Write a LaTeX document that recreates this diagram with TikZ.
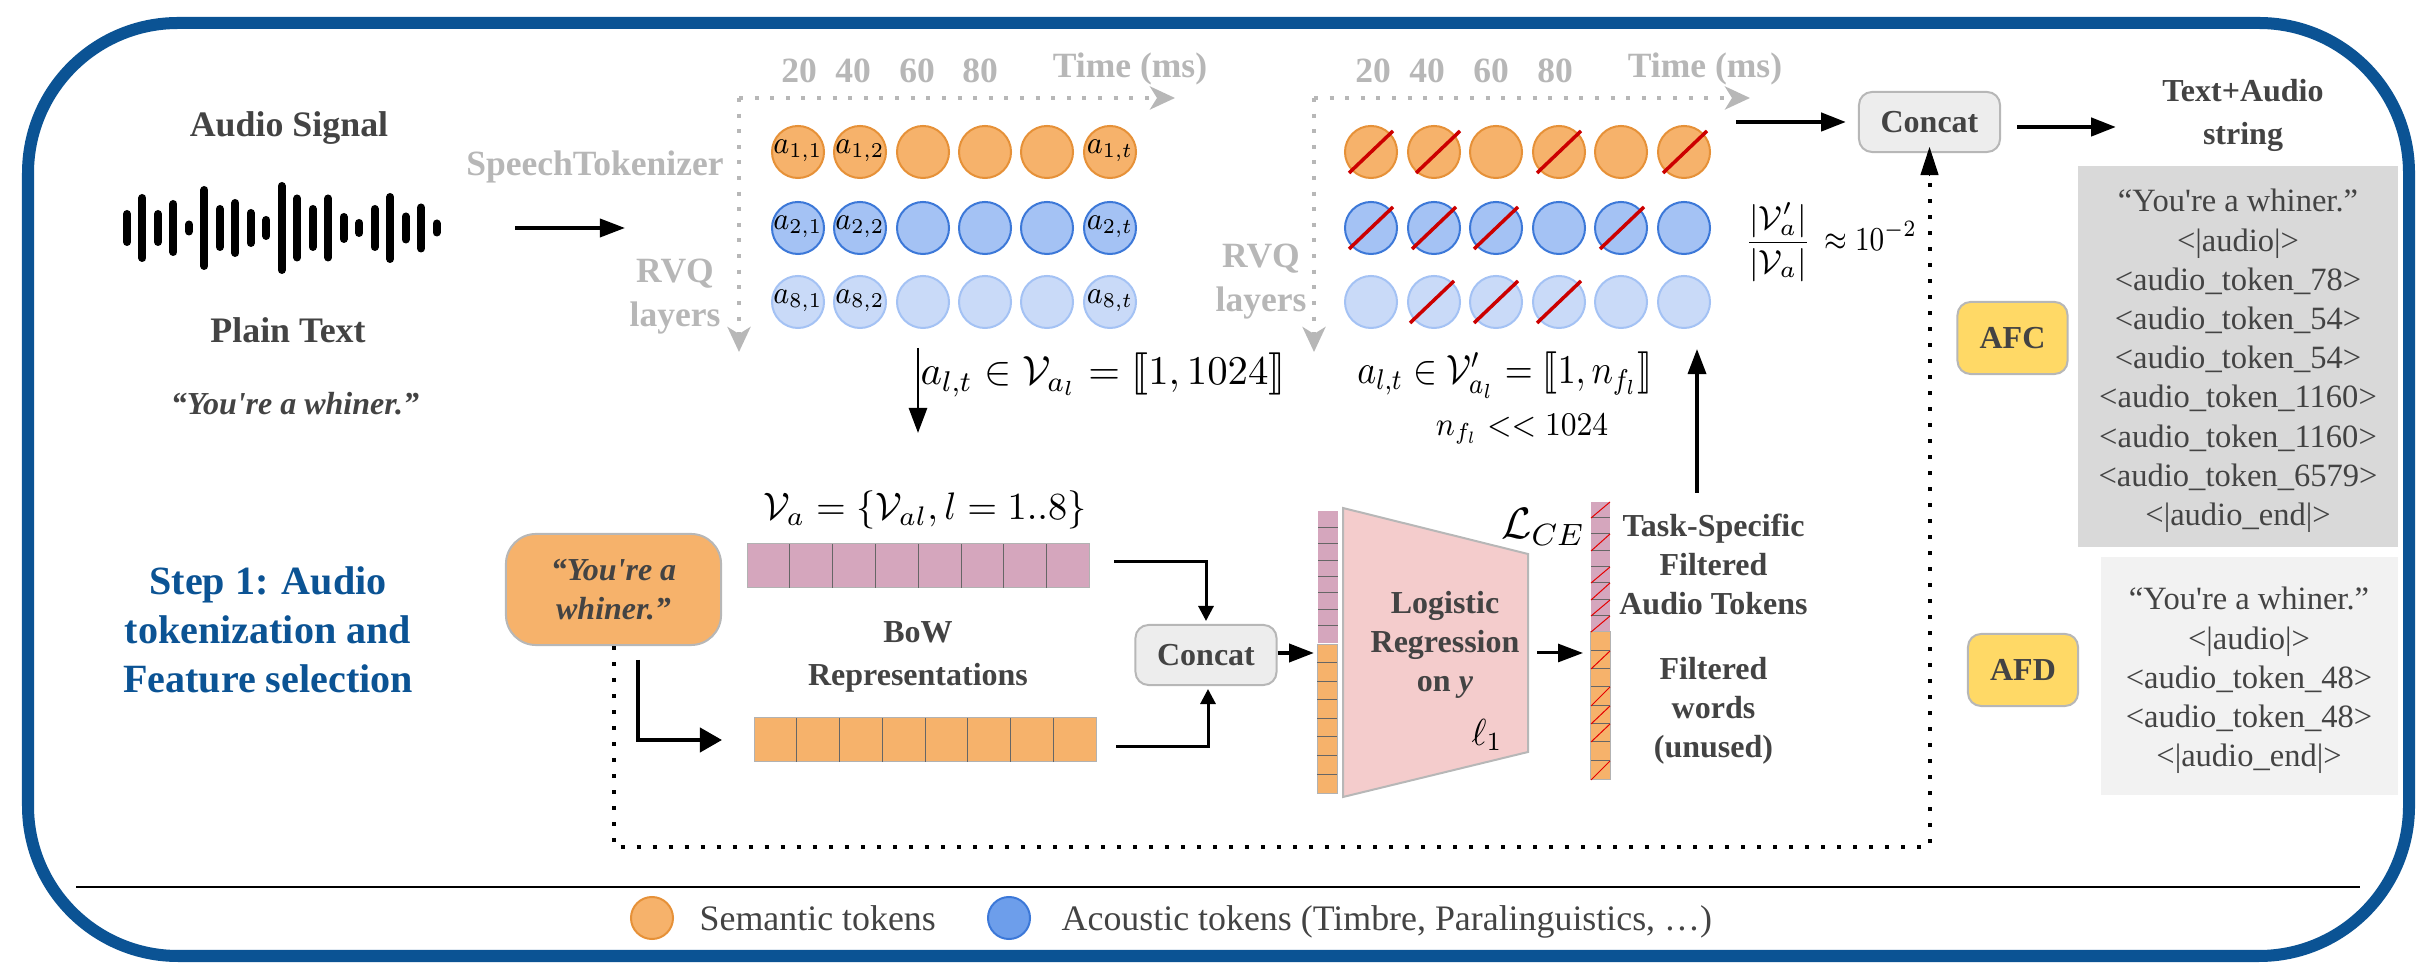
\documentclass[tikz,border=0pt]{standalone}
\usepackage{fix-cm}
\usepackage{amsmath}
\usepackage{stmaryrd}
\usepackage[no-math]{fontspec}
\setmainfont{Liberation Serif}
\newfontfamily\plainquote{Liberation Serif}
\newcommand{\apos}{{\plainquote'}}
\newcommand{\squeeze}[2]{\scalebox{#1}[1]{#2}}
\usetikzlibrary{arrows.meta}

\definecolor{framecol}{HTML}{0B5394}
\definecolor{txtcol}{HTML}{434343}
\definecolor{axiscol}{HTML}{B7B7B7}
\definecolor{semcol}{HTML}{F6B26B}
\definecolor{semline}{HTML}{E69138}
\definecolor{acocol}{HTML}{A4C2F4}
\definecolor{acoline}{HTML}{3C78D8}
\definecolor{acolight}{HTML}{C9DAF8}
\definecolor{acolegend}{HTML}{6D9EEB}
\definecolor{bowcol}{HTML}{D5A6BD}
\definecolor{lrcol}{HTML}{F4CCCC}
\definecolor{tagcol}{HTML}{FFD966}
\definecolor{slashcol}{HTML}{CC0000}

\tikzset{
  toka/.style={circle,inner sep=0,minimum size=0.52cm,line width=0.02cm,fill=semcol,draw=semline},
  tokb/.style={circle,inner sep=0,minimum size=0.52cm,line width=0.02cm,fill=acocol,draw=acoline},
  tokc/.style={circle,inner sep=0,minimum size=0.52cm,line width=0.02cm,fill=acolight,draw=acocol},
  toklabel/.style={inner sep=0,font=\fontsize{9}{10}\selectfont},
  slash/.style={draw=slashcol,line width=0.035cm},
  lab/.style={inner sep=0,text=txtcol,align=center,font=\fontsize{9.1}{11.1}\selectfont\bfseries},
  biglab/.style={lab,font=\fontsize{10.2}{11.1}\selectfont\bfseries},
  axislab/.style={inner sep=0,anchor=base,text=axiscol,align=center,font=\fontsize{10.1}{12.5}\selectfont\bfseries},
  mathlab/.style={inner sep=0,font=\fontsize{11.6}{14}\selectfont},
  axisline/.style={draw=axiscol,line width=0.04cm,dash pattern=on 0.04cm off 0.116cm,
    -{Stealth[length=0.25cm,width=0.23cm,inset=0.07cm,fill=axiscol]}},
  arr/.style={-{Stealth[length=0.25cm,width=0.18cm,inset=0pt]},line width=0.035cm},
  greybox/.style={rectangle,rounded corners=0.13cm,inner sep=0,line width=0.02cm,fill=black!7,draw=axiscol,
    minimum width=1.41cm,minimum height=0.6cm,lab},
  tagbox/.style={rectangle,rounded corners=0.13cm,inner sep=0,line width=0.02cm,fill=tagcol,draw=axiscol,
    minimum width=1.1cm,minimum height=0.72cm,lab},
  paneltext/.style={inner sep=0,anchor=base,text=txtcol,font=\fontsize{9.25}{11}\selectfont},
  cell/.style={draw=black!60,line width=0.01cm},
  celldiag/.style={draw=red!90!black,line width=0.01cm},
}

\begin{document}
\begin{tikzpicture}[x=0.01cm,y=-0.01cm]
  \useasboundingbox (0,0) rectangle (2433,980);
  \draw[framecol,line width=0.12cm,rounded corners=1.5cm] (28,23) rectangle (2409,956);

  % audio signal
  \node[biglab] (audio) at (289,128) {Audio Signal};
  \foreach[count=\i] \h in {18,34,18,28,7.5,42,23,29,19,12,46,33.5,23,33.5,15,9,23,35,15.5,24.5,8.5}
    \draw[line width=0.08cm,line cap=round] ({127+15.48*(\i-1)},{228-\h+4}) -- ({127+15.48*(\i-1)},{228+\h-4});
  \node[biglab] (plain) at (288,330) {Plain Text};
  \node[lab,font=\fontsize{9.1}{11.1}\selectfont\bfseries\itshape] (quote) at (295,404) {“You\apos re a whiner.”};
  \coordinate (wave-out) at (515,228);
  \coordinate (grid-in) at (625,228);
  \draw[arr] (wave-out) -- (grid-in);
  \node[axislab] (tokenizer) at (595,176) {SpeechTokenizer};
  \node[axislab] (rvqa) at (675,283) {RVQ};
  \node[axislab] (laya) at (675,327) {layers};
  \node[axislab] (rvqb) at (1261,268) {RVQ};
  \node[axislab] (layb) at (1261,312) {layers};

  % time axes
  \foreach \n/\x in {a/739,b/1314}{
    \coordinate (o\n) at (\x,98);
    \coordinate (t\n) at (\x+436,98);
    \coordinate (l\n) at (\x,352);
    \draw[axisline] (o\n) -- (t\n);
    \draw[axisline] (o\n) -- (l\n);
  }
  \node[axislab] (timea) at (1130,78) {Time (ms)};
  \node[axislab] (timeb) at (1705,78) {Time (ms)};
  \foreach \x/\t in {799/20,853/40,917/60,980/80,1373/20,1427/40,1491/60,1555/80}
    \node[axislab] (n\x) at (\x,83) {\t};

  % token grids
  \foreach \r/\y/\s in {1/152/toka,2/228/tokb,8/302/tokc}{
    \foreach[count=\c] \x in {798,860,923,985,1047,1110}
      \node[\s] (a\r\c) at (\x,\y) {};
    \foreach[count=\c] \x in {1371,1434,1496,1559,1621,1684}
      \node[\s] (f\r\c) at (\x,\y) {};
    \foreach \x/\i in {798/1,860/2,1110/t}
      \node[toklabel] (lab\r\i) at (\x,\y-1) {\squeeze{0.93}{$a_{\r,\i}$}};
  }
  \foreach \r/\c/\d in {1/1/0,1/2/4,1/4/0,1/6/1,2/1/0,2/2/0,2/3/0,2/5/1,8/2/-2,8/3/0,8/4/0}
    \draw[slash] ([shift={(-22+\d,21)}]f\r\c.center) -- ([shift={(22+\d,-21)}]f\r\c.center);

  \node[mathlab] (eqa) at (1103,375) {$a_{l,t} \in \mathcal{V}_{a_l} = \llbracket 1,1024 \rrbracket$};
  \node[mathlab] (eqb) at (1505,375) {\squeeze{0.88}{$a_{l,t} \in \mathcal{V}'_{a_l} = \llbracket 1,n_{f_l} \rrbracket$}};
  \node[mathlab,font=\fontsize{9.4}{12}\selectfont] (eqc) at (1522,429) {\squeeze{0.93}{$n_{f_l} << 1024$}};
  \node[mathlab,font=\fontsize{9.5}{12}\selectfont] (ratio) at (1831,242) {$\dfrac{|\mathcal{V}'_a|}{|\mathcal{V}_a|}$\hspace{0.13cm}\squeeze{0.85}{$\approx 10^{-2}$}};

  \coordinate (down-a) at (918,348);
  \coordinate (down-b) at (918,433);
  \draw[arr,line width=0.028cm] (down-a) -- (down-b);

  % top concat
  \node[greybox] (concat) at (1929.5,122) {Concat};
  \coordinate (row-out) at (1736,122);
  \coordinate (row-in) at (1846,122);
  \draw[arr,line width=0.045cm] (row-out) -- (row-in);
  \node[lab] (string) at (2243,115) {Text+Audio\\[0.04cm]string};
  \coordinate (str-a) at (2017,127);
  \coordinate (str-b) at (2116,127);
  \draw[arr,line width=0.045cm] (str-a) -- (str-b);

  % output panels
  \fill[black!15] (2078,166) rectangle (2398,547);
  \fill[black!5] (2101,557) rectangle (2398,795);
  \foreach[count=\i] \t in {“You\apos re a whiner.”,<|audio|>,<audio\_token\_78>,<audio\_token\_54>,<audio\_token\_54>,<audio\_token\_1160>,<audio\_token\_1160>,<audio\_token\_6579>,<|audio\_end|>}
    \node[paneltext] (afc\i) at (2238,{212+39.2*(\i-1)}) {\t};
  \foreach[count=\i] \t in {“You\apos re a whiner.”,<|audio|>,<audio\_token\_48>,<audio\_token\_48>,<|audio\_end|>}
    \node[paneltext] (afd\i) at (2249,{610+39.2*(\i-1)}) {\t};
  \node[tagbox] (afc) at (2012.5,338) {AFC};
  \node[tagbox] (afd) at (2023,670) {AFD};

  % step title
  \node[lab,text=framecol,font=\fontsize{11.4}{13.9}\selectfont\bfseries] (stepa) at (268,630) {Step 1: Audio\\tokenization and\\Feature selection};

  % bow part
  \node[rectangle,rounded corners=0.3cm,inner sep=0,line width=0.02cm,fill=semcol,draw=axiscol,minimum width=2.15cm,minimum height=1.11cm,
    lab,font=\fontsize{9.1}{11.1}\selectfont\bfseries\itshape] (text) at (613.5,589.5) {“You\apos re a\\whiner.”};
  \node[mathlab,font=\fontsize{10.9}{13}\selectfont] (eqv) at (925,510) {$\mathcal{V}_a = \{\mathcal{V}_{al}, l = 1..8\}$};
  \node[lab] (bow) at (918,657) {BoW\\[0.04cm]Representations};
  \fill[bowcol,draw=black!30,line width=0.01cm] (747,544) rectangle (1089.5,588);
  \fill[semcol,draw=black!30,line width=0.01cm] (754,718) rectangle (1096,762);
  \foreach \i in {1,...,7}{
    \draw[cell] ({747+\i*42.8},544) -- ({747+\i*42.8},588);
    \draw[cell] ({754+\i*42.75},718) -- ({754+\i*42.75},762);
  }
  \node[greybox] (concatb) at (1206,655) {Concat};
  \coordinate (bow-a) at (638,660);
  \coordinate (bow-b) at (722,740);
  \draw[arr,line width=0.04cm,-{Stealth[length=0.22cm,width=0.24cm,inset=0pt]}] (bow-a) |- (bow-b);
  \coordinate (pink-out) at (1114,562);
  \coordinate (pink-in) at (1206,621);
  \coordinate (orange-out) at (1116,747);
  \coordinate (orange-in) at (1208,689);
  \draw[arr,line width=0.03cm,-{Stealth[length=0.15cm,width=0.15cm,inset=0pt]}] (pink-out) -| (pink-in);
  \draw[arr,line width=0.03cm,-{Stealth[length=0.15cm,width=0.15cm,inset=0pt]}] (orange-out) -| (orange-in);

  % stacked features
  \coordinate (stack-in) at (1314,653);
  \draw[arr,line width=0.04cm] (concatb.east |- stack-in) -- (stack-in);
  \fill[bowcol] (1318,511) rectangle (1338,643);
  \fill[semcol,draw=black!30,line width=0.01cm] (1317,645) rectangle (1337,794);
  \foreach \y in {528,544,561,577,593,610,626}
    \draw[cell] (1318,\y) -- (1338,\y);
  \foreach \y in {663,682,700,719,737,756,775}
    \draw[cell] (1317,\y) -- (1337,\y);

  % logistic regression
  \draw[fill=lrcol,draw=axiscol,line width=0.02cm] (1343,508) -- (1528,554) -- (1528,752) -- (1343,797) -- cycle;
  \node[lab] (logreg) at (1445,645) {Logistic\\Regression\\on \textit{y}};
  \node[inner sep=0,font=\fontsize{10.7}{12}\selectfont] (lone) at (1487,735) {\squeeze{0.95}{$\ell_1$}};
  \node[inner sep=0,font=\fontsize{12.5}{14}\selectfont] (lce) at (1543,527) {$\mathcal{L}_{CE}$};
  \coordinate (lr-out) at (1537,653);
  \coordinate (lr-in) at (1583,653);
  \draw[arr,line width=0.03cm] (lr-out) -- (lr-in);

  % selected features
  \fill[bowcol] (1591,502) rectangle (1610,632);
  \fill[semcol,draw=black!30,line width=0.01cm] (1590,632) rectangle (1610,780);
  \foreach \y in {518,534,551,567,583,600,616,651,669,687,706,724,742,761}
    \draw[cell] (1591,\y) -- (1610,\y);
  \foreach \a/\b in {502/518,534/551,567/583,583/600,600/616,616/632,651/669,687/706,706/724,724/742,761/780}
    \draw[celldiag] (1591,\b) -- (1610,\a);
  \node[lab] (task) at (1713.5,564) {Task-Specific\\Filtered\\Audio Tokens};
  \node[lab] (words) at (1713.5,711) {Filtered\\words\\(unused)};
  \coordinate (up-a) at (1697,493);
  \coordinate (up-b) at (1697,349);
  \draw[arr] (up-a) -- (up-b);

  % dotted path back to concat
  \coordinate (path-low) at (613.5,847);
  \coordinate (path-end) at (1929.5,147);
  \draw[line width=0.04cm,dash pattern=on 0.04cm off 0.12cm] (text.south) -- (path-low) -- (path-low -| path-end) -- ([yshift=-0.28cm]path-end);
  \draw[-{Stealth[length=0.28cm,width=0.18cm,inset=0pt]},line width=0.01cm] ([yshift=-0.28cm]path-end) -- (path-end);

  % legend
  \coordinate (rule-a) at (76,887);
  \coordinate (rule-b) at (2360,887);
  \draw[line width=0.023cm] (rule-a) -- (rule-b);
  \node[circle,inner sep=0,minimum size=0.42cm,line width=0.02cm,fill=semcol,draw=semline] (lega) at (652,918) {};
  \node[circle,inner sep=0,minimum size=0.42cm,line width=0.02cm,fill=acolegend,draw=acoline] (legb) at (1009,918) {};
  \node[inner sep=0,anchor=base west,text=txtcol,font=\fontsize{10.2}{12}\selectfont] (sema) at (699,931) {Semantic tokens};
  \node[inner sep=0,anchor=base west,text=txtcol,font=\fontsize{10.2}{12}\selectfont] (semb) at (1061,931) {Acoustic tokens (Timbre, Paralinguistics, …)};
\end{tikzpicture}
\end{document}
